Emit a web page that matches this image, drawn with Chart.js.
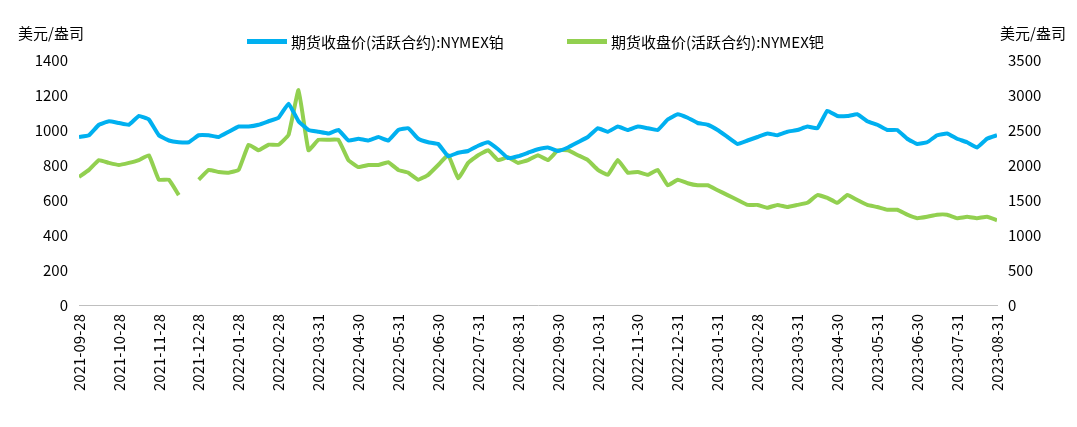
<!DOCTYPE html>
<html>
<head>
<meta charset="utf-8">
<script src="https://cdn.jsdelivr.net/npm/chart.js@4/dist/chart.umd.min.js"></script>
<style>
  body { margin: 0; background: #fff; }
  #wrap { width: 1077px; height: 427px; }
</style>
</head>
<body>
<div id="wrap"><canvas id="myChart"></canvas></div>
<script>
// month tick labels (one per month)
const monthTicks = ["2021-09-28","2021-10-28","2021-11-28","2021-12-28","2022-01-28","2022-02-28",
  "2022-03-31","2022-04-30","2022-05-31","2022-06-30","2022-07-31","2022-08-31","2022-09-30",
  "2022-10-31","2022-11-30","2022-12-31","2023-01-31","2023-02-28","2023-03-31","2023-04-30",
  "2023-05-31","2023-06-30","2023-07-31","2023-08-31"];

// roughly weekly readings, 4 per month
const platinum = [960,970,1030,1050, 1040,1030,1080,1060, 970,940,930,930, 970,970,960,990,
  1020,1020,1030,1050, 1070,1150,1050,1000, 990,980,1000,940, 950,940,960,940,
  1000,1010,950,930, 920,850,870,880, 910,930,890,840, 850,870,890,900,
  880,900,930,960, 1010,990,1020,1000, 1020,1010,1000,1060, 1090,1070,1040,1030,
  1000,960,920,940, 960,980,970,990, 1000,1020,1010,1110, 1080,1080,1090,1050,
  1030,1000,1000,950, 920,930,970,980, 950,930,900,950, 970];

const palladium = [1830,1930,2070,2030, 2000,2030,2070,2140, 1790,1790,1570,null, 1790,1930,1900,1890,
  1930,2290,2210,2290, 2290,2430,3070,2210, 2360,2360,2360,2070, 1970,2000,2000,2040,
  1930,1890,1790,1860, 2000,2140,1810,2030, 2140,2210,2070,2110, 2030,2070,2140,2070,
  2210,2210,2140,2070, 1930,1860,2070,1890, 1900,1860,1930,1710, 1790,1740,1710,1710,
  1640,1570,1500,1430, 1430,1390,1430,1400, 1430,1460,1570,1530, 1460,1570,1500,1430,
  1400,1360,1360,1290, 1240,1260,1290,1290, 1240,1260,1240,1260, 1210];

const seriesNames = ["期货收盘价(活跃合约):NYMEX铂", "期货收盘价(活跃合约):NYMEX钯"];
const seriesColors = ['#00B0F0', '#92D050'];
const unitLabel = "美元/盎司";

const toPoints = arr => arr.map((v, i) => ({ x: i / 4, y: v }));
const font = { family: "'Noto Sans CJK SC', 'Noto Sans', sans-serif", size: 15 };

// unit labels and legend drawn by hand
const textPlugin = {
  id: 'texts',
  afterDraw(chart) {
    const ctx = chart.ctx;
    ctx.save();
    ctx.font = "15px 'Noto Sans CJK SC'";
    ctx.fillStyle = '#000';
    ctx.textBaseline = 'middle';
    ctx.textAlign = 'left';
    ctx.fillText(unitLabel, 18, 33);
    ctx.textAlign = 'right';
    ctx.fillText(unitLabel, 1066, 33);
    ctx.textAlign = 'left';
    const starts = [247, 567];
    seriesNames.forEach((n, i) => {
      ctx.fillStyle = seriesColors[i];
      ctx.fillRect(starts[i], 39, 40, 5);
      ctx.fillStyle = '#000';
      ctx.fillText(n, starts[i] + 44, 42);
    });
    ctx.restore();
  }
};

new Chart("myChart", {
  type: "line",
  data: {
    datasets: [
      { label: seriesNames[0], data: toPoints(platinum), yAxisID: 'y',
        borderColor: seriesColors[0], borderWidth: 4, pointRadius: 0, tension: 0.1 },
      { label: seriesNames[1], data: toPoints(palladium), yAxisID: 'y1',
        borderColor: seriesColors[1], borderWidth: 4, pointRadius: 0, tension: 0.1 }
    ]
  },
  plugins: [textPlugin],
  options: {
    responsive: true,
    maintainAspectRatio: false,
    animation: false,
    layout: { padding: { top: 60, right: 0, left: 0, bottom: 0 } },
    plugins: {
      legend: { display: false },
      tooltip: { enabled: false }
    },
    scales: {
      x: {
        type: 'linear', min: 0, max: 23,
        afterFit: s => { s.height = 122; },
        grid: { display: false, drawTicks: true, tickLength: 6 },
        border: { color: '#bfbfbf' },
        ticks: { stepSize: 1, autoSkip: false, maxRotation: 90, minRotation: 90, font: font, color: '#000',
          callback: v => monthTicks[v] }
      },
      y: {
        position: 'left', min: 0, max: 1400,
        afterFit: s => { s.width = 79; },
        grid: { display: false }, border: { display: false },
        ticks: { stepSize: 200, font: font, color: '#000', format: { useGrouping: false } }
      },
      y1: {
        position: 'right', min: 0, max: 3500,
        afterFit: s => { s.width = 80; },
        grid: { display: false }, border: { display: false },
        ticks: { stepSize: 500, font: font, color: '#000', format: { useGrouping: false } }
      }
    }
  }
});
</script>
</body>
</html>
